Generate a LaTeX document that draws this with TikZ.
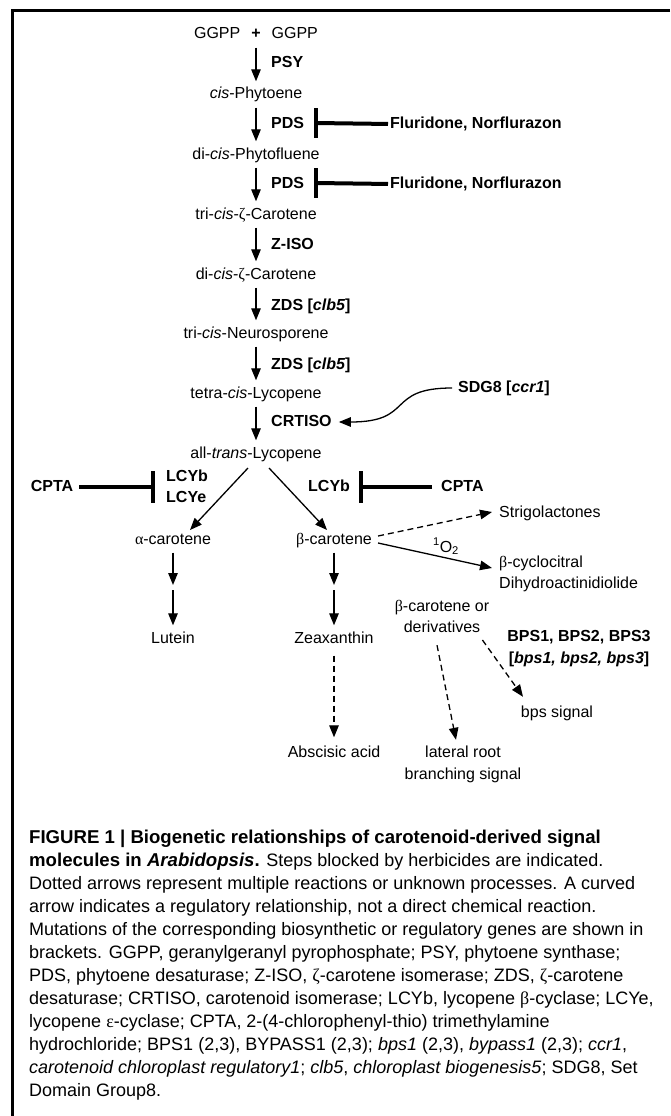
\documentclass[tikz,border=0pt]{standalone}
\usepackage{fontspec}
\setmainfont{Liberation Sans}
\newfontfamily\grk{Liberation Serif}
\usetikzlibrary{arrows.meta,calc}
\newcommand\capbold[1]{{\fontsize{18.6}{23}\selectfont\bfseries #1}}
\begin{document}
\begin{tikzpicture}[x=1pt,y=-1pt,
  lbl/.style={font=\fontsize{16}{19}\selectfont, inner sep=0pt, text height=11.5pt, text depth=3.5pt},
  enz/.style={lbl, font=\fontsize{16}{19}\selectfont\bfseries, anchor=west},
  arrn/.style={line width=1.3pt, -{Triangle[length=12pt,width=9.5pt]}},
  arr/.style={arrn, shorten <=5pt, shorten >=6pt},
  darr/.style={arr, dash pattern=on 6pt off 4pt},
  darrn/.style={arrn, dash pattern=on 6pt off 4pt},
  inh/.style={line width=4pt},
  inhbar/.style={line width=4pt},
  captxt/.style={font=\fontsize{18}{23}\selectfont, inner sep=0pt, anchor=base west},
  frameln/.style={line width=3pt}
]
\useasboundingbox (0,0) rectangle (670,1116);
\fill[white] (0,0) rectangle (670,1116);
\draw[frameln] (670,11) -- (12.5,11) -- (12.5,1116);

% main chain
\node[lbl] (ggpp) at (256,35) {GGPP\hspace{11pt}\textbf{+}\hspace{11pt}GGPP};
\node[lbl] (phyt) at (256,95) {\textit{cis}-Phytoene};
\node[lbl] (pflu) at (256,155) {di-\textit{cis}-Phytofluene};
\node[lbl] (zcar3) at (256,215) {tri-\textit{cis}-{\grk ζ}-Carotene};
\node[lbl] (zcar2) at (256,275) {di-\textit{cis}-{\grk ζ}-Carotene};
\node[lbl] (neur) at (256,334) {tri-\textit{cis}-Neurosporene};
\node[lbl] (tlyc) at (256,394) {tetra-\textit{cis}-Lycopene};
\node[lbl] (alyc) at (256,454) {all-\textit{trans}-Lycopene};

\draw[arr] (ggpp) -- (phyt);
\draw[arr] (phyt) -- (pflu);
\draw[arr] (pflu) -- (zcar3);
\draw[arr] (zcar3) -- (zcar2);
\draw[arr] (zcar2) -- (neur);
\draw[arr] (neur) -- (tlyc);
\draw[arr] (tlyc) -- (alyc);

% enzymes
\node[enz] (psy) at (271,63) {PSY};
\node[enz] (pds1) at (271,124) {PDS};
\node[enz] (pds2) at (271,184) {PDS};
\node[enz] (ziso) at (271,245) {Z-ISO};
\node[enz] (zds1) at (271,306) {ZDS [\textit{clb5}]};
\node[enz] (zds2) at (271,365) {ZDS [\textit{clb5}]};
\node[enz] (crt) at (271,422) {CRTISO};

% herbicides
\node[enz] (flu1) at (390,124) {Fluridone, Norflurazon};
\node[enz] (flu2) at (390,184) {Fluridone, Norflurazon};
\coordinate (b1) at (316,123);
\coordinate (b2) at (316,183);
\draw[inh, shorten <=2pt] (flu1.west) -- (b1);
\draw[inh, shorten <=2pt] (flu2.west) -- (b2);
\draw[inhbar] ($(b1)+(0,-15)$) -- ($(b1)+(0,15)$);
\draw[inhbar] ($(b2)+(0,-15)$) -- ($(b2)+(0,15)$);

% SDG8
\node[enz] (sdg) at (458,388) {SDG8 [\textit{ccr1}]};
\draw[arrn, shorten <=6pt, shorten >=7pt] (sdg.west) .. controls (385,388) and (415,422) .. (crt.east);

% branches
\node[lbl] (acar) at (173,540) {{\grk α}-carotene};
\node[lbl] (bcar) at (334,540) {{\grk β}-carotene};
\draw[arrn] ($(alyc.center)+(-8,14)$) -- ($(acar.center)+(17,-10)$);
\draw[arrn] ($(alyc.center)+(13,14)$) -- ($(bcar.center)+(-7,-10)$);

\node[enz, anchor=center] (cpta1) at (52,487) {CPTA};
\node[enz] (lcyb1) at (166,477) {LCYb};
\node[enz] (lcye) at (166,498) {LCYe};
\coordinate (b3) at (153,487);
\draw[inh, shorten <=6pt] (cpta1.east) -- (b3);
\draw[inhbar] ($(b3)+(0,-16)$) -- ($(b3)+(0,16)$);

\node[enz] (lcyb2) at (308,487) {LCYb};
\node[enz] (cpta2) at (441,487) {CPTA};
\coordinate (b4) at (361,487);
\draw[inh, shorten <=9pt] (cpta2.west) -- (b4);
\draw[inhbar] ($(b4)+(0,-16)$) -- ($(b4)+(0,16)$);

% beta-carotene products
\node[lbl, anchor=west] (strig) at (499,513) {Strigolactones};
\node[lbl, anchor=west] (cyc) at (499,563) {{\grk β}-cyclocitral};
\node[lbl, anchor=west] (dhad) at (499,584) {Dihydroactinidiolide};
\draw[darrn] ($(bcar.east)+(6,-4)$) -- ($(strig.west)+(-7,-1)$);
\draw[arrn] ($(bcar.east)+(6,3)$) -- ($(cyc.west)+(-7,5)$);
\node[lbl] (o2) at (446,548) {\textsuperscript{1}O\textsubscript{2}};

% downward
\coordinate (am) at (173,587.5);
\coordinate (bm) at (334,587.5);
\node[lbl] (lut) at (173,639) {Lutein};
\node[lbl] (zea) at (334,639) {Zeaxanthin};
\node[lbl] (aba) at (334,753) {Abscisic acid};
\draw[arr, shorten >=2.5pt] (acar) -- (am);
\draw[arr, shorten <=2.5pt] (am) -- (lut);
\draw[arr, shorten >=2.5pt] (bcar) -- (bm);
\draw[arr, shorten <=2.5pt] (bm) -- (zea);
\draw[darr, shorten <=9pt, shorten >=8pt] (zea) -- (aba);

% lower right
\node[lbl] (bor) at (442,607) {{\grk β}-carotene or};
\node[lbl] (der) at (442,628) {derivatives};
\node[enz, anchor=center] (bps) at (579,637) {BPS1, BPS2, BPS3};
\node[enz, anchor=center] (bpsm) at (579,659) {[\textit{bps1, bps2, bps3}]};
\node[lbl] (lrb1) at (463,753) {lateral root};
\node[lbl] (lrb2) at (463,775) {branching signal};
\node[lbl] (bpss) at (557,713) {bps signal};
\draw[darrn] ($(der.south)+(-5,9.5)$) -- ($(lrb1.north)+(-7,-5.5)$);
\draw[darrn] ($(der.east)+(2,12)$) -- ($(bpss.north)+(-34,-8.5)$);

% caption
\node[captxt] (c1) at (29,843) {\capbold{FIGURE 1 | Biogenetic relationships of carotenoid-derived signal}};
\node[captxt] (c2) at (29,866) {\capbold{molecules in \textit{Arabidopsis}.} Steps blocked by herbicides are indicated.};
\node[captxt] (c3) at (29,889) {Dotted arrows represent multiple reactions or unknown processes. A curved};
\node[captxt] (c4) at (29,912) {arrow indicates a regulatory relationship, not a direct chemical reaction.};
\node[captxt] (c5) at (29,935) {Mutations of the corresponding biosynthetic or regulatory genes are shown in};
\node[captxt] (c6) at (29,958) {brackets. GGPP, geranylgeranyl pyrophosphate; PSY, phytoene synthase;};
\node[captxt] (c7) at (29,981) {PDS, phytoene desaturase; Z-ISO, {\grk ζ}-carotene isomerase; ZDS, {\grk ζ}-carotene};
\node[captxt] (c8) at (29,1004) {desaturase; CRTISO, carotenoid isomerase; LCYb, lycopene {\grk β}-cyclase; LCYe,};
\node[captxt] (c9) at (29,1027) {lycopene {\grk ε}-cyclase; CPTA, 2-(4-chlorophenyl-thio) trimethylamine};
\node[captxt] (c10) at (29,1050) {hydrochloride; BPS1 (2,3), BYPASS1 (2,3); \textit{bps1} (2,3), \textit{bypass1} (2,3); \textit{ccr1},};
\node[captxt] (c11) at (29,1073) {\textit{carotenoid chloroplast regulatory1}; \textit{clb5}, \textit{chloroplast biogenesis5}; SDG8, Set};
\node[captxt] (c12) at (29,1096) {Domain Group8.};
\end{tikzpicture}
\end{document}
